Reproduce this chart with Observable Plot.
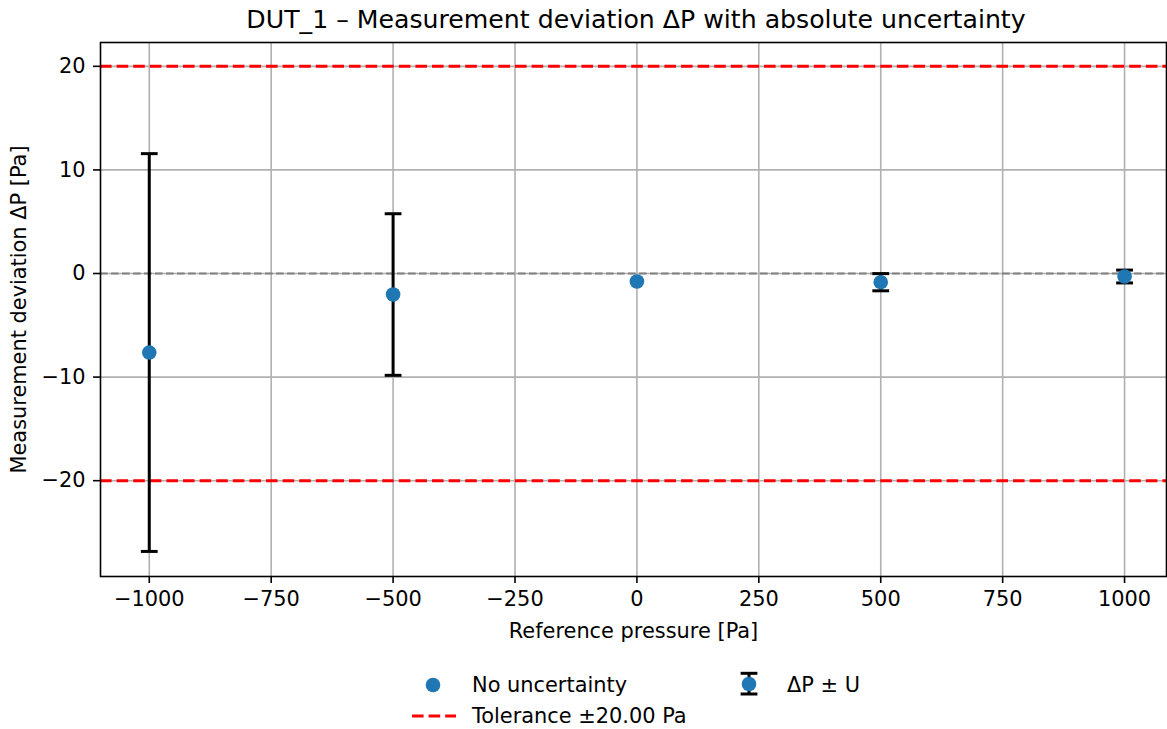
<!DOCTYPE html>
<html>
<head>
<meta charset="utf-8">
<script src="https://cdn.jsdelivr.net/npm/d3@7"></script>
<script src="https://cdn.jsdelivr.net/npm/@observablehq/plot@0.6"></script>
<style>
  html, body { margin: 0; padding: 0; background: white; }
  #wrap { position: relative; width: 1167px; height: 729px; font-family: "DejaVu Sans", sans-serif; color: black; overflow: hidden; }
  #title { position: absolute; left: 103px; width: 1066px; top: 5px; text-align: center; font-size: 25.2px; line-height: 30px; white-space: nowrap; }
  .leg { position: absolute; font-size: 20.9px; line-height: 24px; white-space: nowrap; }
  svg.legsym { position: absolute; overflow: visible; }
</style>
</head>
<body>
<div id="wrap">
  <div id="chart"></div>
  <div id="title">DUT_1 – Measurement deviation ΔP with absolute uncertainty</div>
  <div id="legend"></div>
</div>
<script>
// ---- data ----
const refPressure = [-1000, -500, 0, 500, 1000];          // Reference pressure [Pa]
const deviation   = [-7.63, -2.03, -0.77, -0.84, -0.29];  // ΔP [Pa]
const uncertainty = [19.2, 7.8, null, 0.83, 0.62];        // U [Pa] (null = no uncertainty)
const tolerance   = 20;                                    // ± tolerance [Pa]
const xTicks = [-1000, -750, -500, -250, 0, 250, 500, 750, 1000];
const yTicks = [-20, -10, 0, 10, 20];
const legendLabels = ["No uncertainty", "ΔP ± U", "Tolerance ±20.00 Pa"];

const rows = refPressure.map((x, i) => ({x, y: deviation[i], u: uncertainty[i]}));
const withU = rows.filter(d => d.u != null);
const noU = rows.filter(d => d.u == null);
const caps = withU.flatMap(d => [{x: d.x, y: d.y + d.u}, {x: d.x, y: d.y - d.u}]);

const capSymbol = {
  draw(ctx, size) {
    const r = Math.sqrt(size / Math.PI);
    ctx.moveTo(-r, 0);
    ctx.lineTo(r, 0);
  }
};

const fmt = d3.format("d");
const blue = "#1f77b4";

const chart = Plot.plot({
  width: 1167,
  height: 729,
  marginTop: 42,
  marginBottom: 153,
  marginLeft: 100,
  marginRight: 1,
  style: {fontFamily: "DejaVu Sans", fontSize: "20.9px", color: "black", background: "white"},
  x: {domain: [-1100, 1086]},
  y: {domain: [-29.25, 22.3]},
  marks: [
    Plot.gridX(xTicks, {stroke: "#b0b0b0", strokeOpacity: 1, strokeWidth: 1.6}),
    Plot.gridY(yTicks, {stroke: "#b0b0b0", strokeOpacity: 1, strokeWidth: 1.6}),
    Plot.ruleY([0], {stroke: "#808080", strokeWidth: 2, strokeDasharray: "7.7,3.3"}),
    Plot.ruleY([-tolerance, tolerance], {stroke: "red", strokeWidth: 3, strokeDasharray: "11.6,5"}),
    Plot.ruleX(withU, {x: "x", y1: d => d.y - d.u, y2: d => d.y + d.u, stroke: "black", strokeWidth: 3}),
    Plot.dot(caps, {x: "x", y: "y", symbol: capSymbol, r: 8.4, stroke: "black", strokeWidth: 3}),
    Plot.dot(withU, {x: "x", y: "y", r: 7.3, fill: blue}),
    Plot.dot(noU, {x: "x", y: "y", r: 7.3, fill: blue}),
    Plot.axisX(xTicks, {tickSize: 7, tickPadding: 8, tickFormat: fmt, fontSize: 20.9, strokeWidth: 1.6,
      label: "Reference pressure [Pa]", labelAnchor: "center", labelArrow: "none", labelOffset: 61}),
    Plot.axisY(yTicks, {tickSize: 7, tickPadding: 8, tickFormat: fmt, fontSize: 20.9, strokeWidth: 1.6,
      label: "Measurement deviation ΔP [Pa]", labelAnchor: "center", labelArrow: "none", labelOffset: 89}),
    Plot.frame({stroke: "black", strokeWidth: 1.6})
  ]
});
document.getElementById("chart").appendChild(chart);

// ---- legend (below the axes) ----
const leg = document.getElementById("legend");
const NS = "http://www.w3.org/2000/svg";
function sym(left, top, w, h, inner) {
  const s = document.createElementNS(NS, "svg");
  s.setAttribute("class", "legsym");
  s.setAttribute("width", w); s.setAttribute("height", h);
  s.style.left = left + "px"; s.style.top = top + "px";
  s.innerHTML = inner;
  leg.appendChild(s);
}
function label(left, top, text) {
  const d = document.createElement("div");
  d.className = "leg"; d.style.left = left + "px"; d.style.top = top + "px";
  d.textContent = text; leg.appendChild(d);
}
sym(413, 665, 40, 40, `<circle cx="20" cy="20" r="7.3" fill="${blue}"/>`);
label(472, 673, legendLabels[0]);
sym(729, 664, 40, 40, `<line x1="20" y1="9.3" x2="20" y2="30" stroke="black" stroke-width="3"/>
  <line x1="11.6" y1="9.3" x2="28.4" y2="9.3" stroke="black" stroke-width="3"/>
  <line x1="11.6" y1="30" x2="28.4" y2="30" stroke="black" stroke-width="3"/>
  <circle cx="20" cy="20" r="7.3" fill="${blue}"/>`);
label(787, 673, legendLabels[1]);
sym(412, 706, 44, 20, `<line x1="0" y1="10" x2="44" y2="10" stroke="red" stroke-width="3" stroke-dasharray="11.6,5"/>`);
label(472, 704, legendLabels[2]);
</script>
</body>
</html>
